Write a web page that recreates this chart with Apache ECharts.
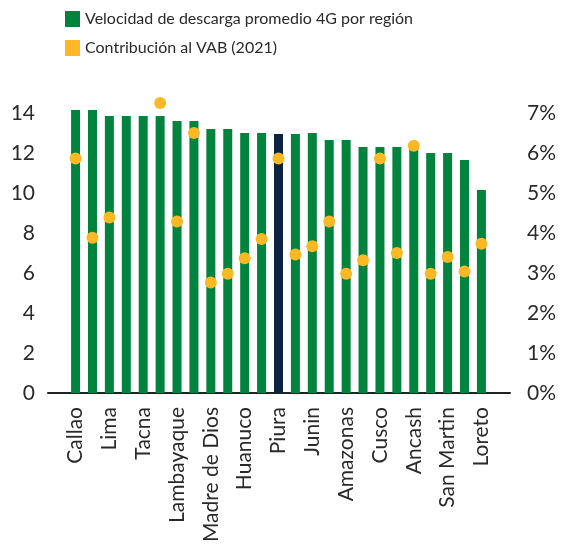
<!DOCTYPE html>
<html>
<head>
<meta charset="utf-8">
<script src="https://cdn.jsdelivr.net/npm/echarts@6/dist/echarts.min.js"></script>
<style>
  html, body { margin: 0; padding: 0; background: #fff; }
  #chart { width: 572px; height: 550px; }
</style>
</head>
<body>
<div id="chart"></div>
<script>
// regiones (las pares no llevan etiqueta en el gráfico)
const regiones = ['Callao', 'Moquegua', 'Lima', 'Arequipa', 'Tacna', 'Ica', 'Lambayaque', 'La Libertad',
    'Madre de Dios', 'Tumbes', 'Huanuco', 'Cajamarca', 'Piura', 'Pasco', 'Junin', 'Ucayali',
    'Amazonas', 'Puno', 'Cusco', 'Ayacucho', 'Ancash', 'Apurimac', 'San Martin', 'Huancavelica', 'Loreto'];
const velocidad = [14.15, 14.15, 13.85, 13.85, 13.85, 13.85, 13.6, 13.6, 13.2, 13.2, 13.0, 13.0, 12.95,
    12.95, 13.0, 12.65, 12.65, 12.3, 12.3, 12.3, 12.3, 12.0, 12.0, 11.65, 10.15];
const vab = [5.86, 3.88, 4.39, null, null, 7.25, 4.29, 6.5, 2.76, 2.98, 3.37, 3.85, 5.86,
    3.46, 3.67, 4.29, 2.98, 3.32, 5.86, 3.5, 6.18, 2.98, 3.4, 3.04, 3.73];
const destacada = 'Piura';
const etiquetas = [0, 2, 4, 6, 8, 10, 12, 14, 16, 18, 20, 22, 24];

const verde = '#00843D';
const azul = '#0C2340';
const amarillo = '#FDB924';
const texto = '#2a2a2a';

const chart = echarts.init(document.getElementById('chart'), null, { renderer: 'canvas' });

const barras = velocidad.map((v, i) => ({
    value: [i, v],
    itemStyle: { color: regiones[i] === destacada ? azul : verde }
}));
const puntos = [];
vab.forEach((v, i) => { if (v !== null) puntos.push([i, v]); });

const option = {
    backgroundColor: '#fff',
    textStyle: { fontFamily: 'Lato, sans-serif' },
    legend: {
        orient: 'vertical',
        left: 65,
        top: 11,
        padding: 0,
        itemWidth: 15,
        itemHeight: 16,
        itemGap: 13,
        textStyle: { fontSize: 16, color: texto, fontFamily: 'Lato, sans-serif' },
        data: [
            { name: 'Velocidad de descarga promedio 4G por región', icon: 'rect', itemStyle: { color: verde } },
            { name: 'Contribución al VAB (2021)', icon: 'rect', itemStyle: { color: amarillo } }
        ]
    },
    grid: { left: 48, right: 62, top: 113, bottom: 157, containLabel: false },
    xAxis: {
        type: 'value',
        min: -1.63,
        max: 25.69,
        axisLine: { show: true, onZero: false, lineStyle: { color: '#222', width: 2 } },
        axisTick: { show: false },
        splitLine: { show: false },
        axisLabel: {
            customValues: etiquetas,
            rotate: 90,
            margin: 14,
            fontSize: 21,
            color: texto,
            formatter: v => regiones[v] || ''
        }
    },
    yAxis: [
        {
            type: 'value', min: 0, max: 14, interval: 2,
            axisLine: { show: false }, axisTick: { show: false }, splitLine: { show: false },
            axisLabel: { fontSize: 21, color: texto, margin: 13 }
        },
        {
            type: 'value', min: 0, max: 7, interval: 1, position: 'right',
            axisLine: { show: false }, axisTick: { show: false }, splitLine: { show: false },
            axisLabel: { fontSize: 21, color: texto, margin: 17, formatter: '{value}%' }
        }
    ],
    series: [
        {
            name: 'Velocidad de descarga promedio 4G por región',
            type: 'bar',
            barWidth: 9,
            clip: false,
            itemStyle: { color: verde },
            data: barras
        },
        {
            name: 'Contribución al VAB (2021)',
            type: 'scatter',
            yAxisIndex: 1,
            symbolSize: 12,
            clip: false,
            itemStyle: { color: amarillo, opacity: 1 },
            data: puntos,
            z: 3
        }
    ]
};

chart.setOption(option);
</script>
</body>
</html>
